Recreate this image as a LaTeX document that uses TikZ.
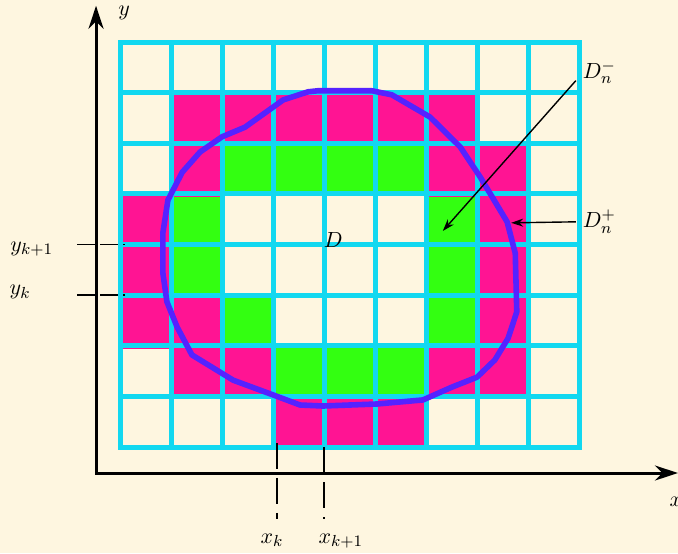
\documentclass[tikz,border=0pt]{standalone}
\usetikzlibrary{arrows.meta}
\definecolor{bgcream}{HTML}{FEF6E0}
\definecolor{gridcyan}{HTML}{12D8F0}
\definecolor{cellpink}{HTML}{FF1493}
\definecolor{cellgreen}{HTML}{33FF11}
\definecolor{curveblue}{HTML}{5522FF}
\tikzset{
  gridline/.style={gridcyan, line width=2.5pt, line cap=rect},
  boundary/.style={curveblue, line width=2.8pt, line join=round},
  axis/.style={line width=1.5pt,
    {Stealth[length=11.5pt,width=7.5pt]}-{Stealth[length=11.5pt,width=7.5pt]}},
  tickline/.style={line width=0.8pt, dash pattern=on 9pt off 2.5pt},
  pointer/.style={line width=0.7pt, -{Stealth[length=6pt,width=4pt]}},
  every node/.style={font=\fontsize{10.8}{13}\selectfont},
}
\begin{document}
\begin{tikzpicture}[x=25.5pt, y=25.3pt]
  \fill[bgcream] (-2.353,-2.095) rectangle (10.941,8.834);
  \useasboundingbox (-2.353,-2.095) rectangle (10.941,8.834);
  % cells inside D
  \foreach \i/\j in {2/5,3/5,4/5,5/5,1/4,6/4,1/3,6/3,2/2,6/2,3/1,4/1,5/1}
    \fill[cellgreen] (\i,\j) rectangle ++(1,1);
  % cells meeting the boundary
  \foreach \i/\j in {1/6,2/6,3/6,4/6,5/6,6/6,1/5,6/5,7/5,0/4,7/4,0/3,7/3,
                     0/2,1/2,7/2,1/1,2/1,6/1,7/1,3/0,4/0,5/0}
    \fill[cellpink] (\i,\j-0.06) rectangle ++(1,1.06);
  % grid
  \foreach \i in {0,...,9}
    \draw[gridline] (\i,0) -- (\i,8);
  \foreach \j in {0,...,8}
    \draw[gridline] (0,\j) -- (9,\j);
  % axes
  \coordinate (O) at (-0.47,-0.514);
  \coordinate (ytop) at (-0.47,8.72);
  \coordinate (xend) at (10.94,-0.514);
  \draw[axis] (ytop) -- (O) -- (xend);
  \node (ylab) at (0.08,8.58) {$y$};
  \node (xlab) at (10.9,-1.09) {$x$};
  % the domain D
  \draw[boundary] (3.88,7.04) -- (4.94,7.04) -- (5.33,6.96) -- (6.08,6.52)
    -- (6.67,5.93) -- (7.06,5.34) -- (7.59,4.45) -- (7.75,3.83) -- (7.78,2.67)
    -- (7.61,2.15) -- (7.35,1.72) -- (7.00,1.38) -- (6.50,1.18) -- (5.94,0.93)
    -- (5.04,0.85) -- (3.98,0.81) -- (3.53,0.83) -- (3.00,1.03) -- (2.22,1.32)
    -- (1.41,1.82) -- (1.12,2.37) -- (0.92,2.87) -- (0.84,3.44) -- (0.84,4.23)
    -- (0.94,4.88) -- (1.22,5.43) -- (1.57,5.83) -- (2.00,6.13) -- (2.45,6.32)
    -- (3.20,6.86) -- (3.69,7.02) -- cycle;
  \node (dom) at (4.18,4.09) {$D$};
  % grid values
  \draw[tickline] (-0.84,4) -- (0.1,4);
  \draw[tickline] (-0.84,3) -- (0.1,3);
  \draw[tickline, dash pattern=on 13pt off 4.5pt] (3.08,0.08) -- (3.08,-1.42);
  \draw[tickline, dash pattern=on 13pt off 4.5pt] (4,0) -- (4,-1.42);
  \node (ykp) at (-1.73,3.91) {$y_{k+1}$};
  \node (yk) at (-1.96,3.06) {$y_k$};
  \node (xk) at (2.98,-1.84) {$x_k$};
  \node (xkp) at (4.33,-1.86) {$x_{k+1}$};
  % inner and outer sums
  \node (Dminus) at (9.40,7.41) {$D_n^-$};
  \node (Dplus) at (9.40,4.45) {$D_n^+$};
  \coordinate (Dmtip) at (6.33,4.27);
  \coordinate (Dptip) at (7.67,4.43);
  \draw[pointer] (Dminus.200) -- (Dmtip);
  \draw[pointer] (Dplus.west) -- (Dptip);
\end{tikzpicture}
\end{document}
